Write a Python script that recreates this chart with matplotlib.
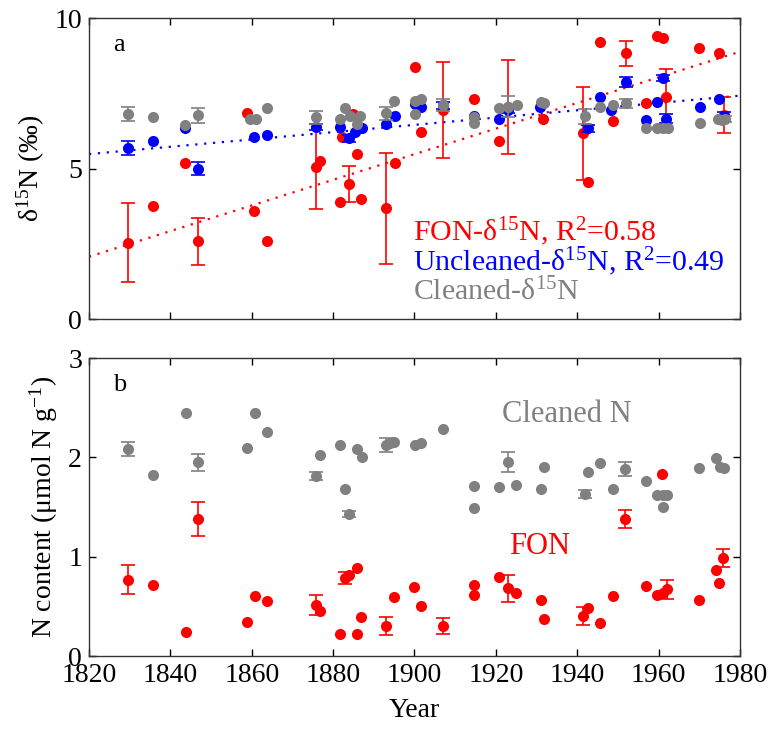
import matplotlib
matplotlib.use('Agg')
import matplotlib.pyplot as plt
import numpy as np

plt.rcParams['font.family'] = ['Liberation Serif', 'DejaVu Serif']
plt.rcParams['mathtext.fontset'] = 'custom'
plt.rcParams['mathtext.rm'] = 'Liberation Serif'
plt.rcParams['mathtext.it'] = 'Liberation Serif:italic'

RED = '#ff0000'
BLUE = '#0000ff'
GRAY = '#808080'

# ---- panel a: d15N ----
fon_d_year = [1829.7, 1835.8, 1843.7, 1846.9, 1858.9, 1860.6, 1863.7, 1875.9, 1876.9, 1881.8,
              1882.3, 1883.9, 1885.0, 1885.9, 1886.8, 1893.0, 1895.1, 1900.1, 1901.7, 1906.9,
              1914.7, 1920.8, 1923.0, 1931.6, 1941.5, 1942.7, 1945.6, 1948.8, 1951.9, 1956.9,
              1959.5, 1961.0, 1961.8, 1969.9, 1974.9, 1976.0]
fon_d_val = [2.54, 3.75, 5.17, 2.59, 6.83, 3.59, 2.59, 5.06, 5.26, 3.88,
             6.06, 4.49, 6.80, 5.48, 3.99, 3.68, 5.17, 8.36, 6.22, 6.94,
             7.31, 5.91, 7.05, 6.66, 6.17, 4.56, 9.21, 6.58, 8.83, 7.19,
             9.40, 9.32, 7.36, 8.99, 8.83, 6.78]
fon_d_err = [1.30, 0, 0, 0.78, 0, 0, 0, 1.41, 0, 0,
             0, 0.60, 0, 0, 0, 1.84, 0, 0, 0, 1.60,
             0, 0, 1.57, 0, 1.55, 0, 0, 0, 0.42, 0,
             0, 0, 0.95, 0, 0, 0.60]

unc_d_year = [1829.7, 1835.8, 1843.7, 1846.9, 1860.5, 1863.7, 1875.9, 1881.8, 1883.9, 1885.5,
              1887.0, 1893.0, 1895.1, 1900.1, 1901.7, 1906.9, 1914.7, 1920.8, 1923.0, 1930.8,
              1942.7, 1945.6, 1948.4, 1951.9, 1956.9, 1959.6, 1961.0, 1961.8, 1970.1, 1974.9,
              1976.0]
unc_d_val = [5.67, 5.91, 6.33, 5.00, 6.06, 6.11, 6.37, 6.39, 6.00, 6.20,
             6.33, 6.48, 6.74, 7.13, 7.05, 7.10, 6.74, 6.66, 6.95, 7.05,
             6.33, 7.39, 6.94, 7.88, 6.61, 7.22, 8.00, 6.66, 7.03, 7.30,
             6.74]
unc_d_err = [0.23, 0, 0, 0.20, 0, 0, 0.10, 0, 0.12, 0,
             0, 0, 0, 0, 0, 0.12, 0, 0, 0.10, 0,
             0.12, 0, 0, 0.16, 0, 0, 0.10, 0.15, 0, 0,
             0.15]

cln_d_year = [1829.7, 1835.8, 1843.7, 1846.9, 1859.5, 1861.0, 1863.7, 1875.9, 1881.8, 1882.9,
              1884.1, 1885.9, 1886.6, 1893.0, 1895.0, 1900.1, 1900.1, 1901.7, 1906.9, 1914.7,
              1914.7, 1920.8, 1923.0, 1925.1, 1931.0, 1931.8, 1941.9, 1945.6, 1948.8, 1951.9,
              1956.9, 1959.5, 1961.0, 1962.2, 1970.1, 1974.5, 1975.5, 1976.3]
cln_d_val = [6.80, 6.72, 6.43, 6.77, 6.63, 6.63, 7.00, 6.70, 6.66, 7.00,
             6.74, 6.47, 6.74, 6.83, 7.25, 7.25, 6.81, 7.30, 7.11, 6.70,
             6.50, 7.00, 7.05, 7.10, 7.20, 7.16, 6.74, 7.05, 7.10, 7.16,
             6.33, 6.36, 6.33, 6.36, 6.50, 6.66, 6.60, 6.66]
cln_d_err = [0.23, 0, 0, 0.25, 0, 0, 0, 0.22, 0, 0,
             0, 0, 0, 0.23, 0, 0, 0, 0, 0.20, 0,
             0, 0, 0.35, 0, 0, 0, 0.25, 0, 0, 0.14,
             0, 0, 0, 0, 0, 0, 0, 0.10]

# fitted trend lines (end points)
fit_year = [1820, 1980]
fon_fit = [2.07, 8.88]
unc_fit = [5.48, 7.42]

# ---- panel b: N content ----
fon_n_year = [1829.7, 1835.8, 1843.8, 1846.9, 1858.9, 1860.8, 1863.7, 1875.8, 1876.7, 1881.8,
              1882.9, 1883.9, 1885.9, 1885.9, 1886.8, 1893.0, 1895.0, 1900.0, 1901.7, 1906.9,
              1914.7, 1914.7, 1920.8, 1922.9, 1924.9, 1931.0, 1931.8, 1941.5, 1942.7, 1945.6,
              1948.7, 1951.7, 1956.8, 1959.6, 1960.8, 1961.2, 1962.0, 1969.9, 1974.1, 1974.9,
              1975.9]
fon_n_val = [0.77, 0.71, 0.245, 1.38, 0.345, 0.60, 0.55, 0.51, 0.45, 0.22,
             0.79, 0.82, 0.89, 0.22, 0.39, 0.30, 0.59, 0.69, 0.50, 0.30,
             0.72, 0.61, 0.80, 0.68, 0.63, 0.56, 0.37, 0.40, 0.48, 0.33,
             0.60, 1.38, 0.70, 0.61, 1.83, 0.63, 0.67, 0.56, 0.87, 0.74,
             0.99]
fon_n_err = [0.15, 0, 0, 0.17, 0, 0, 0, 0.10, 0, 0,
             0.06, 0, 0, 0, 0, 0.09, 0, 0, 0, 0.08,
             0, 0, 0, 0.14, 0, 0, 0, 0.09, 0, 0,
             0, 0.09, 0, 0, 0, 0, 0.10, 0, 0, 0,
             0.09]

cln_n_year = [1829.7, 1835.8, 1843.8, 1846.9, 1858.9, 1860.8, 1863.7, 1875.8, 1876.9, 1881.8,
              1882.9, 1883.9, 1885.9, 1887.0, 1893.0, 1894.0, 1894.9, 1900.1, 1901.7, 1906.9,
              1914.7, 1914.7, 1920.8, 1923.0, 1924.9, 1931.0, 1931.8, 1941.9, 1942.7, 1945.6,
              1948.7, 1951.7, 1956.9, 1959.6, 1961.0, 1962.0, 1961.0, 1969.9, 1974.1, 1975.0,
              1976.0]
cln_n_val = [2.08, 1.82, 2.45, 1.95, 2.09, 2.45, 2.26, 1.81, 2.02, 2.12,
             1.68, 1.43, 2.08, 2.00, 2.12, 2.14, 2.15, 2.12, 2.14, 2.29,
             1.71, 1.49, 1.70, 1.95, 1.72, 1.68, 1.90, 1.63, 1.85, 1.94,
             1.68, 1.88, 1.76, 1.62, 1.62, 1.62, 1.50, 1.89, 1.99, 1.90,
             1.89]
cln_n_err = [0.07, 0, 0, 0.085, 0, 0, 0, 0.04, 0, 0,
             0, 0.03, 0, 0, 0.07, 0, 0, 0, 0, 0,
             0, 0, 0, 0.10, 0, 0, 0, 0.04, 0, 0,
             0, 0.07, 0, 0, 0, 0, 0, 0, 0, 0,
             0]

x_ticks = [1820, 1840, 1860, 1880, 1900, 1920, 1940, 1960, 1980]


def draw_series(ax, year, val, err, color, z):
    year = np.array(year)
    val = np.array(val)
    err = np.array(err)
    m = err > 0
    ax.errorbar(year[m], val[m], yerr=err[m], fmt='none', ecolor=color,
                elinewidth=1.2, capsize=5, capthick=1.2, zorder=z)
    ax.plot(year, val, 'o', color=color, markersize=8, markeredgewidth=0, zorder=z + 0.5)


fig = plt.figure(figsize=(7.74, 7.29), dpi=100)
ax1 = fig.add_axes([0.115, 0.5624, 0.841, 0.4129])
ax2 = fig.add_axes([0.115, 0.1001, 0.841, 0.4088])

# panel a
ax1.plot(fit_year, fon_fit, color=RED, linewidth=1.6, dashes=(1, 3), zorder=1)
ax1.plot(fit_year, unc_fit, color=BLUE, linewidth=1.6, dashes=(1, 3), zorder=1)
draw_series(ax1, fon_d_year, fon_d_val, fon_d_err, RED, 2)
draw_series(ax1, unc_d_year, unc_d_val, unc_d_err, BLUE, 3)
draw_series(ax1, cln_d_year, cln_d_val, cln_d_err, GRAY, 4)

ax1.set_xlim(1820, 1980)
ax1.set_ylim(0, 10)
ax1.set_xticks(x_ticks)
ax1.set_xticklabels([])
ax1.set_yticks([0, 5, 10])
ax1.set_ylabel('δ$^{15}$N (‰)', fontsize=20, labelpad=5)
ax1.text(0.037, 0.91, 'a', transform=ax1.transAxes, fontsize=19, va='center', ha='left')
ax1.text(0.497, 0.29, 'FON-δ$^{15}$N, R$^2$=0.58', transform=ax1.transAxes,
         fontsize=21.5, color=RED, va='center', ha='left')
ax1.text(0.497, 0.19, 'Uncleaned-δ$^{15}$N, R$^2$=0.49', transform=ax1.transAxes,
         fontsize=21.5, color=BLUE, va='center', ha='left')
ax1.text(0.497, 0.09, 'Cleaned-δ$^{15}$N', transform=ax1.transAxes,
         fontsize=21.5, color=GRAY, va='center', ha='left')

# panel b
draw_series(ax2, fon_n_year, fon_n_val, fon_n_err, RED, 2)
draw_series(ax2, cln_n_year, cln_n_val, cln_n_err, GRAY, 4)
ax2.set_xlim(1820, 1980)
ax2.set_ylim(0, 3)
ax2.set_xticks(x_ticks)
ax2.set_yticks([0, 1, 2, 3])
ax2.set_xlabel('Year', fontsize=20, labelpad=7)
ax2.set_ylabel('N content (μmol N g$^{-1}$)', fontsize=20, labelpad=6)
ax2.text(0.037, 0.91, 'b', transform=ax2.transAxes, fontsize=19, va='center', ha='left')
ax2.text(1921.5, 2.43, 'Cleaned N', fontsize=22, color=GRAY, va='center', ha='left')
ax2.text(1923.2, 1.1, 'FON', fontsize=22, color=RED, va='center', ha='left')

for ax in (ax1, ax2):
    ax.tick_params(direction='in', top=True, right=True, length=5, width=1, labelsize=20, pad=5)
    for s in ax.spines.values():
        s.set_linewidth(1.0)
        s.set_color('#333333')

fig.savefig('out.png', dpi=100)
